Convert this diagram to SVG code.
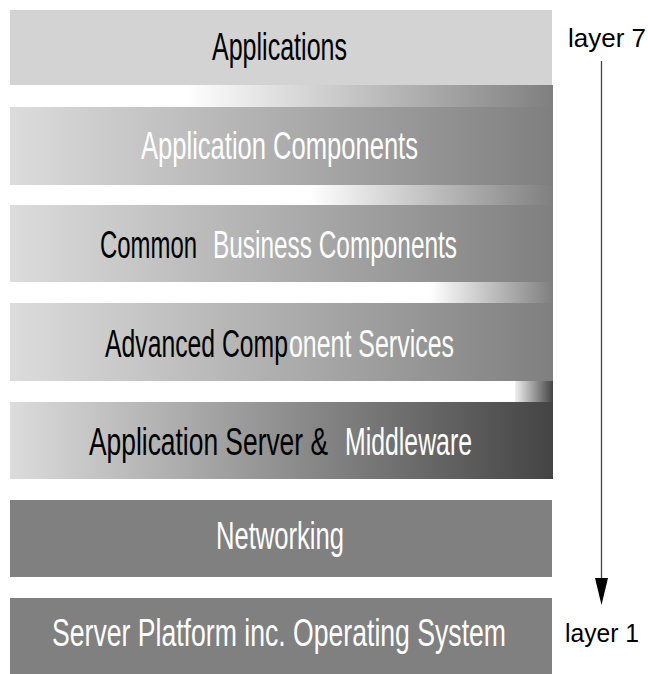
<svg xmlns="http://www.w3.org/2000/svg" width="648" height="674" viewBox="0 0 648 674">
<defs>
<linearGradient id="gBox" x1="0" y1="0" x2="1" y2="0"><stop offset="0" stop-color="#dcdcdc"/><stop offset="1" stop-color="#7f7f7f"/></linearGradient>
<linearGradient id="gBoxDark" x1="0" y1="0" x2="1" y2="0"><stop offset="0" stop-color="#dcdcdc"/><stop offset="1" stop-color="#444444"/></linearGradient>
<linearGradient id="gStrip" x1="0" y1="0" x2="1" y2="0"><stop offset="0" stop-color="#ffffff"/><stop offset="1" stop-color="#7f7f7f"/></linearGradient>
<linearGradient id="gStripDark" x1="0" y1="0" x2="1" y2="0"><stop offset="0" stop-color="#f0f0f0"/><stop offset="1" stop-color="#444444"/></linearGradient>
</defs>
<style>
.lbl{font-family:"Liberation Sans Narrow","Liberation Sans",Arial,sans-serif;font-size:38px;text-anchor:start}
.blk{fill:#000}
.wht{fill:#fff}
.side{font-family:"Liberation Sans",Arial,sans-serif;font-size:25px;fill:#000}
</style>
<g id="strips">
<rect x="186" y="85" width="367" height="22" fill="url(#gStrip)"/>
<rect x="310" y="185" width="243" height="20" fill="url(#gStrip)"/>
<rect x="430" y="282" width="123" height="21" fill="url(#gStrip)"/>
<rect x="515" y="381" width="38" height="21" fill="url(#gStripDark)"/>
</g>
<g id="n1"><rect x="10" y="10" width="542" height="75" fill="#d3d3d3"/><text class="lbl blk" x="212" y="60" textLength="135" lengthAdjust="spacingAndGlyphs">Applications</text></g>
<g id="n2"><rect x="10" y="107" width="543" height="78" fill="url(#gBox)"/><text class="lbl wht" x="141" y="159" textLength="277" lengthAdjust="spacingAndGlyphs">Application Components</text></g>
<g id="n3"><rect x="10" y="205" width="543" height="77" fill="url(#gBox)"/><text class="lbl blk" x="100" y="258" textLength="97" lengthAdjust="spacingAndGlyphs">Common</text><text class="lbl wht" x="213" y="258" textLength="244" lengthAdjust="spacingAndGlyphs">Business Components</text></g>
<g id="n4"><rect x="10" y="303" width="543" height="78" fill="url(#gBox)"/><text class="lbl blk" x="105" y="357" textLength="183" lengthAdjust="spacingAndGlyphs">Advanced Comp</text><text class="lbl wht" x="289" y="357" textLength="165" lengthAdjust="spacingAndGlyphs">onent Services</text></g>
<g id="n5"><rect x="10" y="402" width="543" height="77" fill="url(#gBoxDark)"/><text class="lbl blk" x="89" y="455" textLength="239" lengthAdjust="spacingAndGlyphs">Application Server &amp;</text><text class="lbl wht" x="345" y="455" textLength="127" lengthAdjust="spacingAndGlyphs">Middleware</text></g>
<g id="n6"><rect x="10" y="500" width="542" height="77" fill="#808080"/><text class="lbl wht" x="216" y="549" textLength="128" lengthAdjust="spacingAndGlyphs">Networking</text></g>
<g id="n7"><rect x="10" y="598" width="542" height="76" fill="#808080"/><text class="lbl wht" x="52" y="646" textLength="454" lengthAdjust="spacingAndGlyphs">Server Platform inc. Operating System</text></g>
<g id="labels">
<text class="side" x="568" y="47" textLength="78" lengthAdjust="spacingAndGlyphs">layer 7</text>
<text class="side" x="565" y="642" textLength="74" lengthAdjust="spacingAndGlyphs">layer 1</text>
</g>
<g id="connectors">
<line x1="601.5" y1="61" x2="601.5" y2="580" stroke="#444" stroke-width="1.3"/>
<path d="M595,578 L608,578 L601.5,605 Z" fill="#000"/>
</g>
</svg>
